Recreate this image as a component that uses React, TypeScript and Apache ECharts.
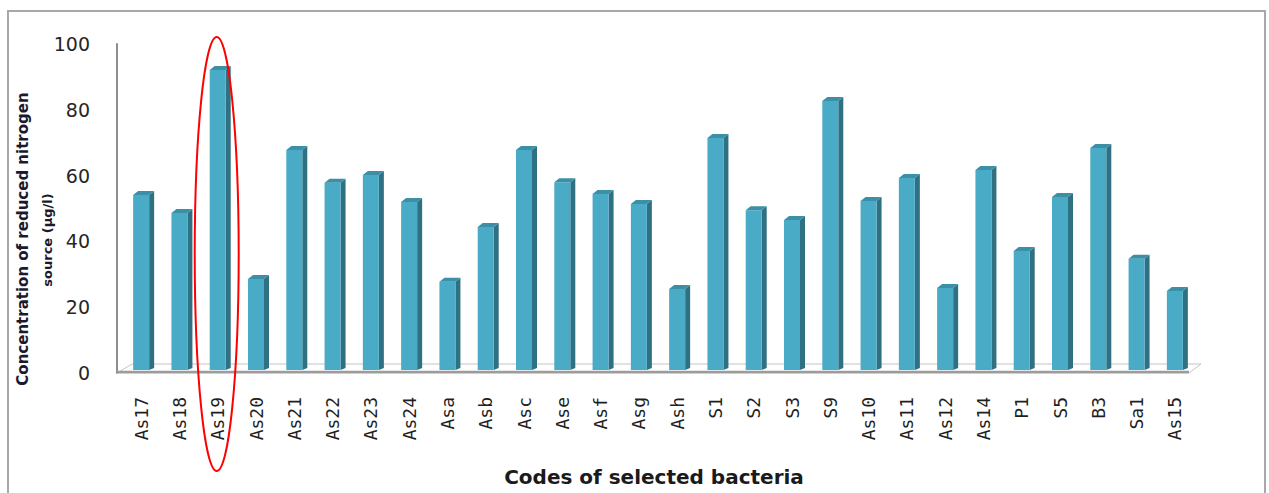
import React, { useEffect, useRef } from "react";
import * as echarts from "echarts";

// Bacterial isolates and the reduced-nitrogen concentration each produced
const categories = [
  "As17", "As18", "As19", "As20", "As21", "As22", "As23", "As24",
  "Asa", "Asb", "Asc", "Ase", "Asf", "Asg", "Ash", "S1", "S2", "S3",
  "S9", "As10", "As11", "As12", "As14", "P1", "S5", "B3", "Sa1", "As15",
];
const concentration = [
  54.1, 48.6, 92.1, 28.6, 67.8, 57.8, 60.2, 52.0,
  27.7, 44.4, 67.8, 58.0, 54.4, 51.4, 25.5, 71.4, 49.5, 46.5,
  82.7, 52.3, 59.3, 25.8, 61.7, 37.1, 53.5, 68.4, 34.7, 24.9,
];
const yTicks = { min: 0, max: 100, interval: 20 };
const highlighted = "As19";

const W = 1269;
const H = 493;
const GRID = { left: 122, right: 75, top: 44, bottom: 120 };

// 3D-looking column: front face, darker right side and a top cap
function renderColumn(params: any, api: any) {
  const idx = api.value(0);
  const v = api.value(1);
  const [cx, yTop] = api.coord([idx, v]);
  const [, yZero] = api.coord([idx, 0]);
  const fw = 16;
  const dx = 5;
  const dy = 4;
  const xl = cx - fw / 2;
  const xr = cx + fw / 2;
  const yb = yZero - 3;
  return {
    type: "group",
    children: [
      {
        type: "polygon",
        shape: { points: [[xr, yTop], [xr + dx, yTop - dy], [xr + dx, yb - 2], [xr, yb]] },
        style: { fill: "#2f7082" },
      },
      {
        type: "rect",
        shape: { x: xl, y: yTop, width: fw, height: yb - yTop },
        style: { fill: "#4aabc6" },
      },
      {
        type: "polygon",
        shape: { points: [[xl, yTop], [xl + dx, yTop - dy], [xr + dx, yTop - dy], [xr, yTop]] },
        style: { fill: "#3b8fa6" },
      },
    ],
  };
}

// Red ring drawn around one category, from above the plot down through its label
function renderRing(params: any, api: any) {
  const [cx] = api.coord([api.value(0), 0]);
  return {
    type: "ellipse",
    shape: { cx: cx - 1, cy: 254, rx: 22, ry: 217 },
    style: { fill: "none", stroke: "#ff0000", lineWidth: 2 },
  };
}

export default function App() {
  const ref = useRef<HTMLDivElement>(null);

  useEffect(() => {
    if (!ref.current) return;
    const chart = echarts.init(ref.current, undefined, { renderer: "svg" });

    const plotW = W - GRID.left - GRID.right;
    const zeroY = H - GRID.bottom;
    const floorLeft = GRID.left - 5;
    const floorRight = GRID.left + plotW - 5;

    chart.setOption({
      animation: false,
      backgroundColor: "#ffffff",
      grid: { ...GRID },
      xAxis: {
        type: "category",
        data: categories,
        axisLine: { show: false },
        axisTick: { show: false },
        axisLabel: {
          interval: 0,
          rotate: 90,
          margin: 24,
          fontFamily: "DejaVu Sans Mono",
          fontSize: 18,
          color: "#1f1f1f",
        },
      },
      yAxis: {
        type: "value",
        min: yTicks.min,
        max: yTicks.max,
        interval: yTicks.interval,
        offset: 5,
        splitLine: { show: false },
        axisTick: { show: false },
        axisLine: { show: true, lineStyle: { color: "#8e8e8e", width: 2 } },
        axisLabel: {
          margin: 27,
          fontFamily: "DejaVu Sans",
          fontSize: 19,
          color: "#262626",
        },
      },
      series: [
        {
          type: "custom",
          renderItem: renderColumn,
          encode: { x: 0, y: 1 },
          data: concentration.map((v, i) => [i, v]),
          z: 5,
        },
        {
          type: "custom",
          renderItem: renderRing,
          encode: { x: 0, y: 1 },
          clip: false,
          silent: true,
          data: [[categories.indexOf(highlighted), 0]],
          z: 20,
        },
      ],
      graphic: [
        {
          type: "rect",
          shape: { x: 8, y: 11, width: W - 4 - 8, height: H + 20 },
          style: { fill: "none", stroke: "#a8a8a8", lineWidth: 2 },
          z: 0,
          silent: true,
        },
        {
          type: "polygon",
          shape: {
            points: [
              [floorLeft, zeroY],
              [floorRight, zeroY],
              [floorRight + 12, zeroY - 9],
              [floorLeft + 15, zeroY - 9],
            ],
          },
          style: { fill: "#ffffff", stroke: "#c4c4c4", lineWidth: 1 },
          z: 1,
          silent: true,
        },
        {
          type: "line",
          shape: { x1: floorLeft, y1: zeroY - 1, x2: floorRight, y2: zeroY - 1 },
          style: { stroke: "#9c9c9c", lineWidth: 2.5 },
          z: 1,
          silent: true,
        },
        {
          type: "text",
          x: 23,
          y: 239,
          rotation: Math.PI / 2,
          style: {
            text: "Concentration of reduced nitrogen",
            fontFamily: "DejaVu Sans",
            fontWeight: "bold",
            fontSize: 15,
            fill: "#1a1a2e",
            align: "center",
            verticalAlign: "middle",
          },
          z: 10,
        },
        {
          type: "text",
          x: 47,
          y: 240,
          rotation: Math.PI / 2,
          style: {
            text: "source (µg/l)",
            fontFamily: "DejaVu Sans",
            fontWeight: "bold",
            fontSize: 13,
            fill: "#1a1a2e",
            align: "center",
            verticalAlign: "middle",
          },
          z: 10,
        },
        {
          type: "text",
          x: 654,
          y: 477,
          style: {
            text: "Codes of selected bacteria",
            fontFamily: "DejaVu Sans",
            fontWeight: "bold",
            fontSize: 20,
            fill: "#1a1a1a",
            align: "center",
            verticalAlign: "middle",
          },
          z: 10,
        },
      ],
    });

    return () => chart.dispose();
  }, []);

  return (
    <div
      ref={ref}
      style={{ position: "fixed", left: 0, top: 0, width: W, height: H }}
    />
  );
}
